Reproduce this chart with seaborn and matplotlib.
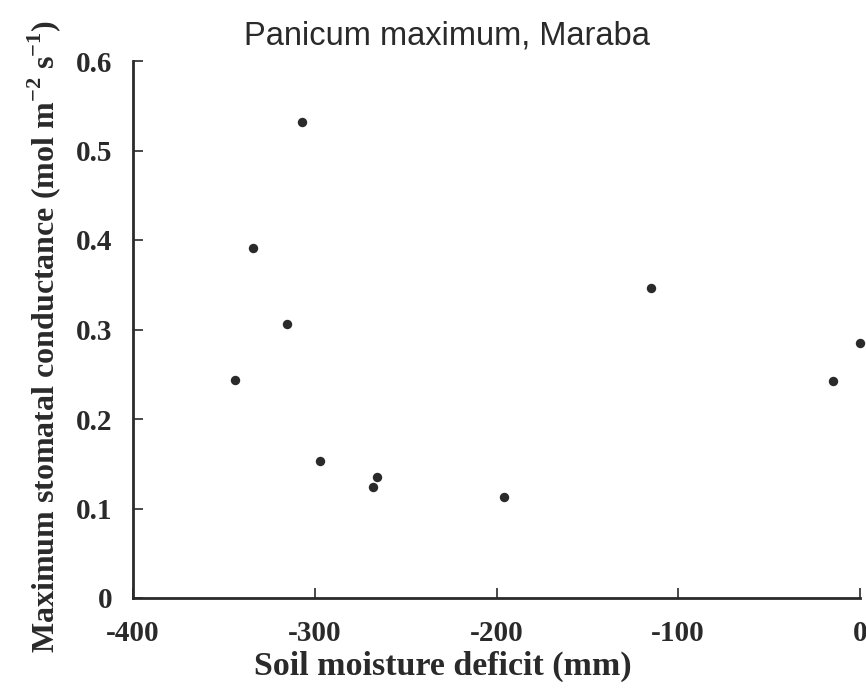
import matplotlib
matplotlib.use("Agg")
import matplotlib.pyplot as plt
import seaborn as sns
import pandas as pd

# Soil moisture deficit (mm) and maximum stomatal conductance (mol m-2 s-1)
deficit = [-344, -334, -315, -307, -297, -266, -268, -196, -115, -15, 0]
conductance = [0.244, 0.391, 0.306, 0.532, 0.153, 0.135, 0.124, 0.113, 0.346, 0.243, 0.285]

x_ticks = [-400, -300, -200, -100, 0]
x_tick_labels = ["-400", "-300", "-200", "-100", "0"]
y_ticks = [0, 0.1, 0.2, 0.3, 0.4, 0.5, 0.6]
y_tick_labels = ["0", "0.1", "0.2", "0.3", "0.4", "0.5", "0.6"]

title = "Panicum maximum, Maraba"
x_label = "Soil moisture deficit (mm)"
y_label = r"Maximum stomatal conductance (mol m$^{\mathbf{-2}}$ s$^{\mathbf{-1}}$)"

df = pd.DataFrame({"deficit": deficit, "conductance": conductance})

sns.set_theme(style="ticks")
plt.rcParams["font.family"] = ["Liberation Serif", "DejaVu Serif"]
plt.rcParams["mathtext.fontset"] = "custom"
plt.rcParams["mathtext.rm"] = "Liberation Serif:bold"
plt.rcParams["mathtext.bf"] = "Liberation Serif:bold"

ink = "#2a2a2a"
fig = plt.figure(figsize=(8.66, 6.92), dpi=100, facecolor="white")
ax = fig.add_axes([133 / 866, 1 - 598 / 692, 727 / 866, 537 / 692])
ax.set_facecolor("white")

sns.scatterplot(data=df, x="deficit", y="conductance", ax=ax, s=46,
                color=ink, edgecolor=ink, linewidth=0, clip_on=False, legend=False)

ax.set_xlim(-400, 0)
ax.set_ylim(0, 0.6)
ax.set_xticks(x_ticks)
ax.set_xticklabels(x_tick_labels)
ax.set_yticks(y_ticks)
ax.set_yticklabels(y_tick_labels)

for side in ("top", "right"):
    ax.spines[side].set_visible(False)
for side in ("left", "bottom"):
    ax.spines[side].set_color(ink)
    ax.spines[side].set_linewidth(2.0)

ax.tick_params(axis="both", direction="in", length=7, width=1.2, color=ink,
               labelsize=21, labelcolor=ink)
ax.tick_params(axis="x", pad=16)
ax.tick_params(axis="y", pad=15)
for lbl in ax.get_xticklabels() + ax.get_yticklabels():
    lbl.set_fontweight("bold")

ax.set_xlabel(x_label, fontsize=24.5, fontweight="bold", color=ink, va="center")
ax.xaxis.set_label_coords((443 - 133) / 727, (598 - 666) / 537)
ax.set_ylabel(y_label, fontsize=23, fontweight="bold", color=ink, va="center")
ax.yaxis.set_label_coords((44 - 133) / 727, (598 - 336) / 537)

fig.text(447 / 866, 1 - 36 / 692, title, ha="center", va="center",
         fontsize=23.5, family=["Liberation Sans", "DejaVu Sans"], color=ink)

fig.savefig("out.png", dpi=100, facecolor="white")
